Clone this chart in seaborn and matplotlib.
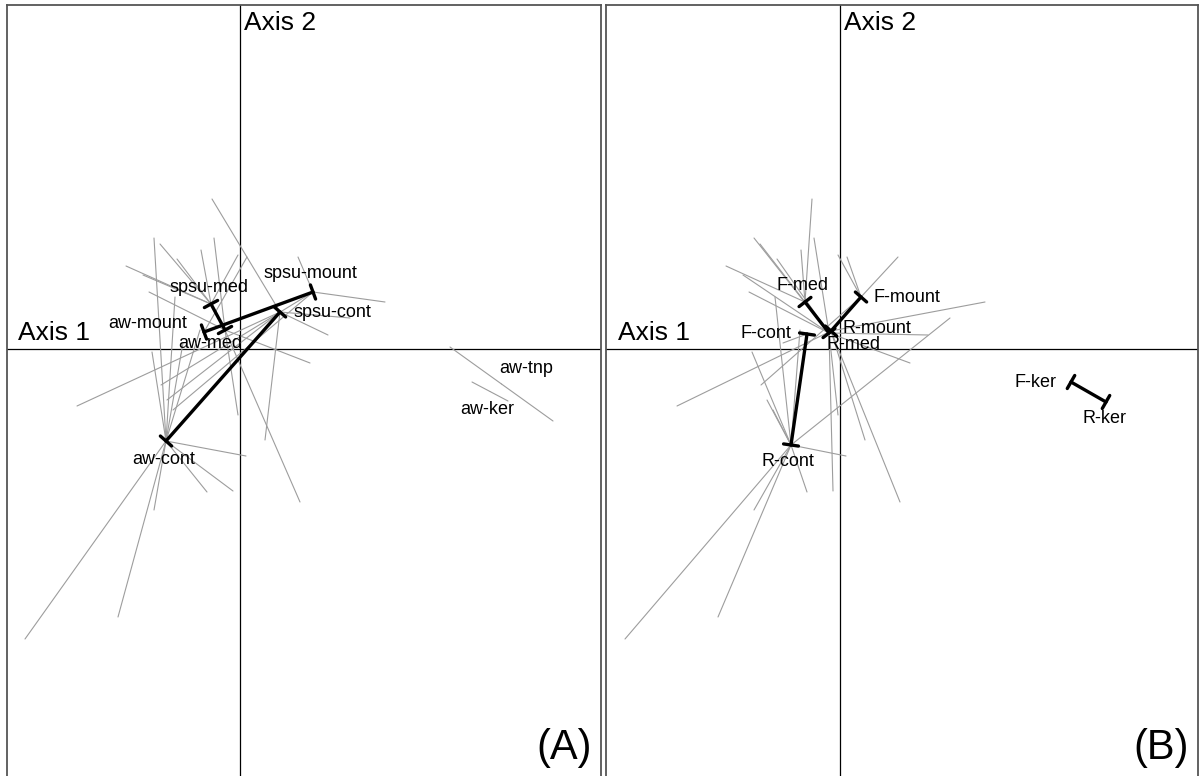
import numpy as np
import pandas as pd
import matplotlib
matplotlib.use("Agg")
import matplotlib.pyplot as plt
import seaborn as sns

sns.set_theme(style="white")
plt.rcParams['font.family'] = ['Liberation Sans', 'DejaVu Sans']
plt.rcParams['text.color'] = 'black'

# ---- sample scores on the first factorial plane (shared by both panels) ----
sample_x = [-2.15, -1.22, -0.86, -0.33, -0.07, 0.06, 0.60, 0.25, -0.28, -0.86,
            -0.80, -0.63, -0.39, -0.26, -0.02, -1.14, -0.97, -0.91, 0.70, 0.88,
            1.10, 1.45, 0.58, -1.63, -0.79, -0.73, -0.67, -0.02, 0.07, -0.88,
            -0.65, -0.57, -0.40]
sample_y = [-2.90, -2.68, -1.61, -1.43, -1.42, -1.07, -1.53, -0.91, 1.50, 1.11,
            1.05, 0.90, 0.99, 1.11, -0.66, 0.83, 0.74, 0.57, -0.14, 0.14,
            0.31, 0.47, 0.92, -0.57, -0.36, -0.51, -0.61, 0.94, 0.92, -0.03,
            0.52, 0.06, 0.19]
group_a = ["aw-cont", "aw-cont", "aw-cont", "aw-cont", "aw-cont", "aw-cont", "aw-med",
           "spsu-cont", "spsu-cont", "aw-cont", "spsu-med", "spsu-med", "spsu-med",
           "aw-med", "aw-med", "spsu-med", "spsu-med", "aw-med", "aw-med", "spsu-cont",
           "spsu-cont", "spsu-mount", "spsu-mount", "spsu-cont", "spsu-mount",
           "spsu-cont", "spsu-mount", "spsu-med", "aw-mount", "aw-cont", "aw-cont",
           "aw-cont", "aw-cont"]
group_b = ["R-cont", "R-cont", "R-cont", "R-cont", "R-med", "R-cont", "R-mount",
           "R-mount", "F-med", "R-med", "R-med", "R-med", "F-med", "R-med", "R-med",
           "F-med", "R-med", "R-med", "R-med", "R-med", "R-cont", "R-mount", "F-mount",
           "R-mount", "F-mount", "R-cont", "R-cont", "F-mount", "F-mount", "R-cont",
           "R-cont", "F-cont", "R-cont"]

# extra samples only present in panel A
extra_x = [2.10, 3.13, 2.32, 2.68]
extra_y = [0.02, -0.72, -0.33, -0.52]
extra_group = ["aw-tnp", "aw-tnp", "aw-ker", "aw-ker"]

# ---- class centroids ----
cent_a_names = ["aw-cont", "aw-med", "aw-mount", "spsu-cont", "spsu-med",
                "spsu-mount", "aw-tnp", "aw-ker"]
cent_a_x = [-0.74, -0.15, -0.36, 0.40, -0.29, 0.73, 2.615, 2.50]
cent_a_y = [-0.92, 0.19, 0.17, 0.37, 0.45, 0.57, -0.35, -0.425]
label_a_x = [-0.76, -0.30, -0.92, 0.92, -0.31, 0.70, 2.86, 2.47]
label_a_y = [-1.10, 0.06, 0.26, 0.37, 0.62, 0.76, -0.19, -0.60]

cent_b_names = ["F-cont", "F-med", "F-mount", "F-ker", "R-cont", "R-med",
                "R-mount", "R-ker"]
cent_b_x = [-0.33, -0.35, 0.21, 2.31, -0.49, -0.11, -0.09, 2.66]
cent_b_y = [0.15, 0.47, 0.52, -0.33, -0.96, 0.16, 0.18, -0.53]
label_b_x = [-0.74, -0.38, 0.67, 1.95, -0.52, 0.13, 0.37, 2.64]
label_b_y = [0.16, 0.64, 0.52, -0.33, -1.12, 0.045, 0.205, -0.69]

# centroid pairs joined by a thick bar
pairs_a = [("aw-cont", "spsu-cont"), ("aw-mount", "spsu-mount"), ("spsu-med", "aw-med")]
pairs_b = [("F-cont", "R-cont"), ("F-med", "R-med"), ("F-mount", "R-mount"),
           ("F-ker", "R-ker")]

panel_tags = ["(A)", "(B)"]


def star_frame(xs, ys, groups, cx, cy):
    rows = []
    for i, (x, y, g) in enumerate(zip(xs, ys, groups)):
        if g is None:
            continue
        rows.append((i, x, y))
        rows.append((i, cx[g], cy[g]))
    return pd.DataFrame(rows, columns=["seg", "x", "y"])


fig = plt.figure(figsize=(12.02, 7.76), dpi=100)
W, H = 1202.0, 776.0
ax_a = fig.add_axes([7 / W, -14 / H, 594 / W, 785 / H])
ax_b = fig.add_axes([606 / W, -14 / H, 592 / W, 785 / H])

panels = [
    (ax_a, cent_a_names, cent_a_x, cent_a_y, label_a_x, label_a_y, pairs_a,
     sample_x + extra_x, sample_y + extra_y, group_a + extra_group, (-2.33, 3.61)),
    (ax_b, cent_b_names, cent_b_x, cent_b_y, label_b_x, label_b_y, pairs_b,
     sample_x, sample_y, group_b, (-2.34, 3.58)),
]

for k, (ax, names, cx, cy, lx, ly, pairs, sx, sy, grp, xlim) in enumerate(panels):
    cxd = dict(zip(names, cx))
    cyd = dict(zip(names, cy))
    ax.set_xlim(*xlim)
    ax.set_ylim(-4.41, 3.44)

    ax.axhline(0, color="black", lw=0.9, zorder=1)
    ax.axvline(0, color="black", lw=0.9, zorder=1)

    stars = star_frame(sx, sy, grp, cxd, cyd)
    sns.lineplot(data=stars, x="x", y="y", units="seg", estimator=None, sort=False,
                 color="#9d9d9d", lw=0.8, ax=ax, zorder=2)

    for a, b in pairs:
        ax.annotate("", xy=(cxd[b], cyd[b]), xytext=(cxd[a], cyd[a]),
                    arrowprops=dict(arrowstyle="|-|,widthA=0.45,widthB=0.45",
                                    lw=2.4, color="black", shrinkA=0, shrinkB=0,
                                    mutation_scale=12),
                    zorder=4)

    for n, x, y in zip(names, lx, ly):
        ax.text(x, y, n, fontsize=13, ha="center", va="center", color="black",
                zorder=5)

    ax.text(-1.86, 0.16, "Axis 1", fontsize=19, ha="center", va="center", color="black")
    ax.text(0.04, 3.26, "Axis 2", fontsize=19, ha="left", va="center", color="black")
    ax.text(xlim[1] - 0.09, -3.99, panel_tags[k], fontsize=30, ha="right",
            va="center", color="black")

    ax.set_xlabel("")
    ax.set_ylabel("")
    ax.set_xticks([])
    ax.set_yticks([])
    for sp in ax.spines.values():
        sp.set_visible(True)
        sp.set_color("#555555")
        sp.set_linewidth(1.3)

fig.savefig("out.png", dpi=100)
